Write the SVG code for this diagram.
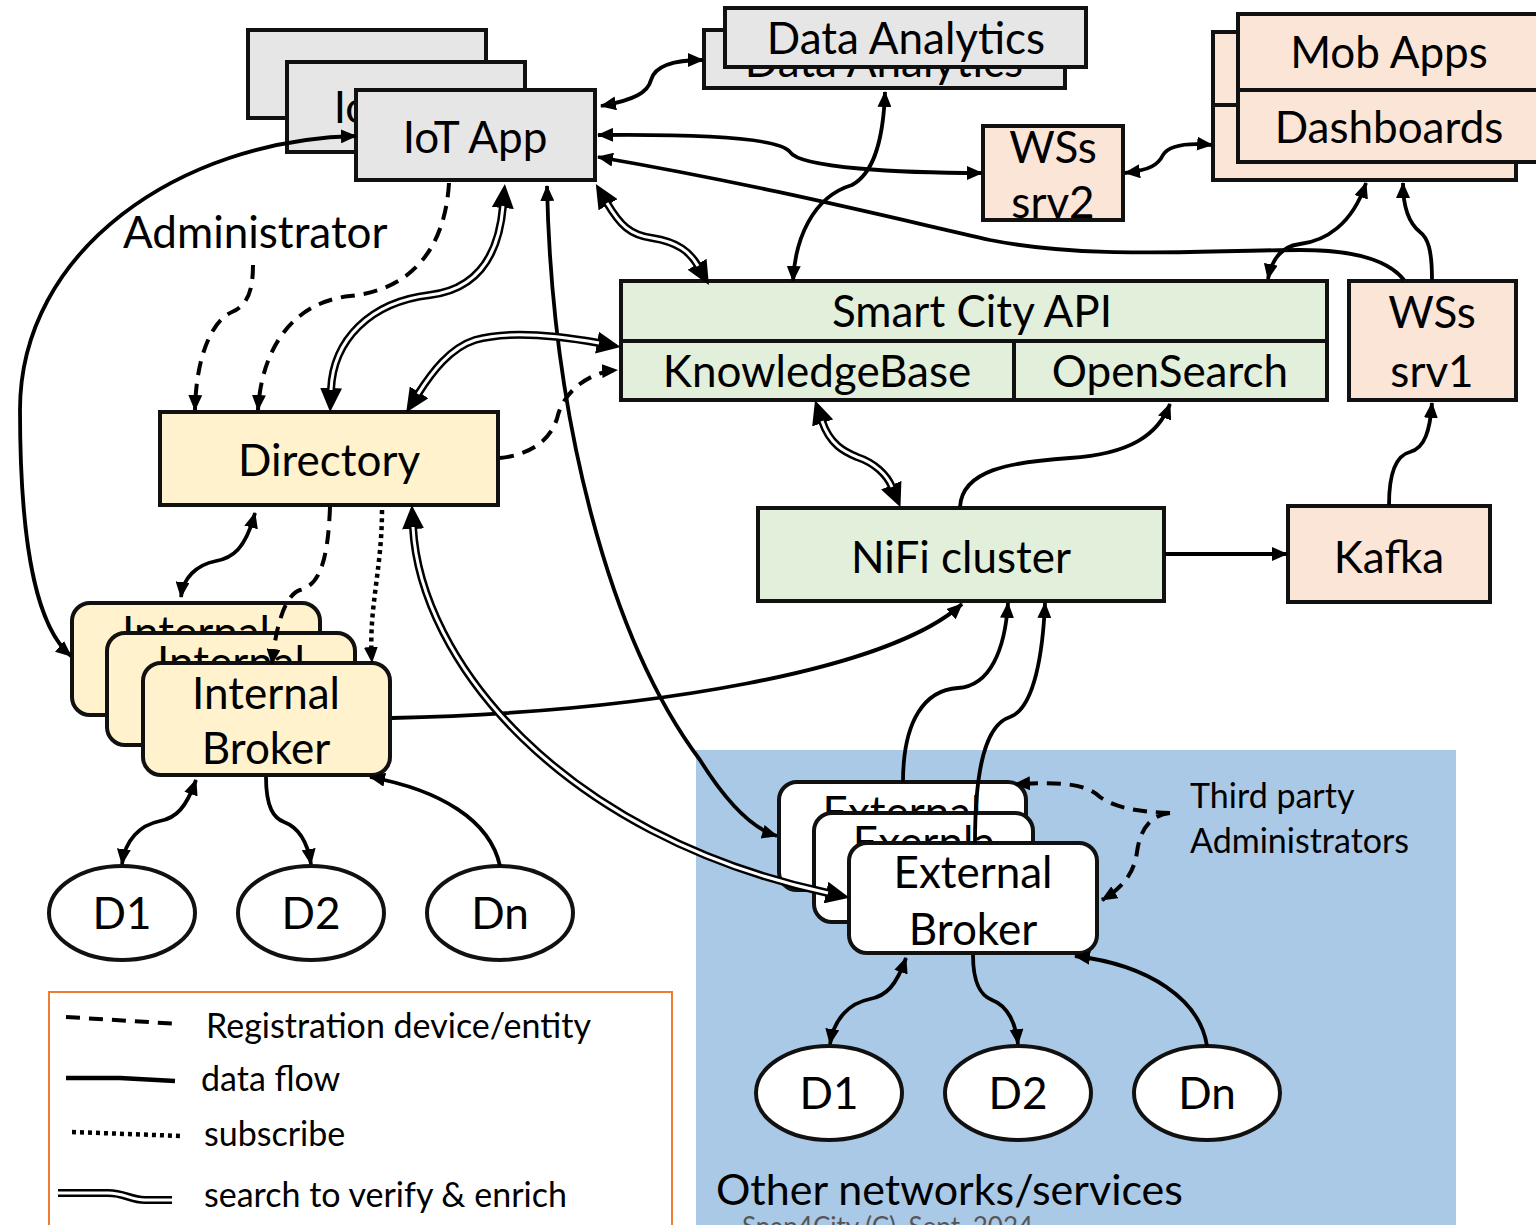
<svg xmlns="http://www.w3.org/2000/svg" width="1536" height="1225" viewBox="0 0 1536 1225">
<defs>
<style>
text{font-family:Lato,"Liberation Sans",sans-serif;fill:#000}
.lbl{font-size:44px;text-anchor:middle}
.sm{font-size:34px}
.box{stroke:#111;stroke-width:4}
.grey{fill:#e7e6e6}
.peach{fill:#fbe5d6}
.green{fill:#e2efda}
.yel{fill:#fff2cc}
.wh{fill:#fff}
.c{fill:none;stroke:#000;stroke-width:3.8}
.d{fill:none;stroke:#000;stroke-width:4;stroke-dasharray:14 9}
.o{fill:none;stroke:#000;stroke-width:4.5;stroke-dasharray:4 4}
.dbo{fill:none;stroke:#000;stroke-width:8}
.dbi{fill:none;stroke:#fff;stroke-width:3}
</style>
<marker id="a" markerUnits="userSpaceOnUse" markerWidth="16" markerHeight="14" refX="15" refY="7" orient="auto-start-reverse">
<path d="M0,0 L16,7 L0,14 z" fill="#000"/>
</marker>
<marker id="ad" markerUnits="userSpaceOnUse" markerWidth="24" markerHeight="22" refX="2" refY="11" orient="auto-start-reverse">
<path d="M0,0 L24,11 L0,22 z" fill="#000"/>
</marker>
</defs>
<rect width="1536" height="1225" fill="#fff"/>
<rect id="other-networks" x="696" y="750" width="760" height="475" fill="#aac9e7"/>

<g id="iot-app">
<rect class="box grey" x="248" y="30" width="238" height="88"/>
<rect class="box grey" x="287" y="62" width="238" height="90"/>
<text class="lbl" x="406" y="123">IoT App</text>
<rect class="box grey" x="356" y="90" width="239" height="90"/>
<text class="lbl" x="475" y="153">IoT App</text>
</g>
<g id="data-analytics">
<rect class="box grey" x="704" y="30" width="361" height="58"/>
<text class="lbl" x="884" y="77">Data Analytics</text>
<rect class="box grey" x="725" y="8" width="361" height="59"/>
<text class="lbl" x="906" y="54">Data Analytics</text>
</g>
<g id="mob-apps-dashboards">
<rect class="box peach" x="1213" y="32" width="303" height="73"/>
<rect class="box peach" x="1213" y="105" width="303" height="75"/>
<rect class="box peach" x="1238" y="14" width="310" height="76"/>
<text class="lbl" x="1389" y="68">Mob Apps</text>
<rect class="box peach" x="1238" y="90" width="310" height="72"/>
<text class="lbl" x="1389" y="143">Dashboards</text>
</g>
<g id="wss-srv2">
<rect class="peach" x="983" y="126" width="140" height="94"/>
<text class="lbl" x="1053" y="163">WSs</text>
<text class="lbl" x="1053" y="218">srv2</text>
<rect class="box" fill="none" x="983" y="126" width="140" height="94"/>
</g>
<g id="smart-city-api">
<rect class="box green" x="621" y="281" width="706" height="60"/>
<text class="lbl" x="972" y="327">Smart City API</text>
<rect class="box green" x="621" y="341" width="393" height="59"/>
<text class="lbl" x="817" y="387">KnowledgeBase</text>
<rect class="box green" x="1014" y="341" width="313" height="59"/>
<text class="lbl" x="1170" y="387">OpenSearch</text>
</g>
<g id="wss-srv1">
<rect class="box peach" x="1349" y="281" width="167" height="119"/>
<text class="lbl" x="1432" y="328">WSs</text>
<text class="lbl" x="1432" y="387">srv1</text>
</g>
<g id="directory">
<rect class="box yel" x="160" y="412" width="338" height="93"/>
<text class="lbl" x="329" y="476">Directory</text>
</g>
<g id="nifi">
<rect class="box green" x="758" y="508" width="406" height="93"/>
<text class="lbl" x="961" y="573">NiFi cluster</text>
</g>
<g id="kafka">
<rect class="box peach" x="1288" y="506" width="202" height="96"/>
<text class="lbl" x="1389" y="573">Kafka</text>
</g>
<g id="internal-broker">
<rect class="box yel" x="72" y="603" width="248" height="112" rx="18"/>
<text class="lbl" x="196" y="648">Internal</text>
<rect class="box yel" x="107" y="633" width="248" height="112" rx="18"/>
<text class="lbl" x="231" y="678">Internal</text>
<rect class="box yel" x="143" y="663" width="247" height="112" rx="18"/>
<text class="lbl" x="266" y="709">Internal</text>
<text class="lbl" x="266" y="764">Broker</text>
</g>
<g id="internal-devices">
<ellipse class="box wh" cx="122" cy="913" rx="73" ry="47"/>
<text class="lbl" x="122" y="929">D1</text>
<ellipse class="box wh" cx="311" cy="913" rx="73" ry="47"/>
<text class="lbl" x="311" y="929">D2</text>
<ellipse class="box wh" cx="500" cy="913" rx="73" ry="47"/>
<text class="lbl" x="500" y="929">Dn</text>
</g>
<g id="external-broker">
<rect class="box wh" x="779" y="782" width="247" height="108" rx="18"/>
<text class="lbl" x="902" y="828">External</text>
<rect class="box wh" x="814" y="813" width="219" height="109" rx="18"/>
<text class="lbl" x="924" y="858">Exernla</text>
<rect class="box wh" x="849" y="843" width="248" height="110" rx="18"/>
<text class="lbl" x="973" y="888">External</text>
<text class="lbl" x="973" y="945">Broker</text>
</g>
<g id="external-devices">
<ellipse class="box wh" cx="829" cy="1093" rx="73" ry="47"/>
<text class="lbl" x="829" y="1109">D1</text>
<ellipse class="box wh" cx="1018" cy="1093" rx="73" ry="47"/>
<text class="lbl" x="1018" y="1109">D2</text>
<ellipse class="box wh" cx="1207" cy="1093" rx="73" ry="47"/>
<text class="lbl" x="1207" y="1109">Dn</text>
</g>
<g id="labels">
<text x="123" y="248" style="font-size:44px">Administrator</text>
<text class="sm" x="1190" y="808">Third party</text>
<text class="sm" x="1190" y="853">Administrators</text>
<text x="716" y="1205" style="font-size:43px">Other networks/services</text>
<text x="742" y="1236" style="font-size:26px;fill:#555">Snap4City (C), Sept. 2024</text>
</g>

<g id="connectors">
<!-- solid data flows -->
<path class="c" marker-start="url(#a)" marker-end="url(#a)" d="M356,136 C180,140 20,250 20,410 C20,560 40,630 71,656"/>
<path class="c" marker-start="url(#a)" marker-end="url(#a)" d="M547,186 C552,420 610,640 700,760 C725,800 750,828 777,836"/>
<path class="c" marker-end="url(#a)" d="M392,718 C650,712 890,670 962,604"/>
<path class="c" marker-end="url(#a)" d="M903,782 C903,720 925,690 958,688 C990,686 1005,650 1008,603"/>
<path class="c" marker-end="url(#a)" d="M975,843 C975,770 985,725 1010,717 C1035,708 1043,650 1045,603"/>
<path class="c" marker-end="url(#a)" d="M960,507 C962,470 1010,462 1070,458 C1130,454 1158,435 1170,404"/>
<path class="c" marker-end="url(#a)" d="M1389,505 C1389,470 1398,455 1410,452 C1425,448 1430,430 1432,403"/>
<path class="c" marker-end="url(#a)" d="M1165,554 L1287,554"/>
<path class="c" marker-end="url(#a)" d="M1432,280 C1432,250 1428,238 1420,232 C1410,224 1403,208 1403,183"/>
<path class="c" marker-start="url(#a)" marker-end="url(#a)" d="M1268,279 C1272,258 1283,246 1300,244 C1325,241 1352,225 1366,183"/>
<path class="c" marker-start="url(#a)" marker-end="url(#a)" d="M1125,173 C1150,170 1158,165 1163,155 C1170,144 1190,143 1212,145"/>
<path class="c" marker-start="url(#a)" marker-end="url(#a)" d="M885,92 C883,150 870,175 852,185 C812,197 795,240 793,281"/>
<path class="c" marker-start="url(#a)" d="M598,157 C760,185 880,215 990,240 C1090,260 1200,250 1300,250 C1360,250 1390,262 1404,280"/>
<path class="c" marker-start="url(#a)" marker-end="url(#a)" d="M598,135 C700,134 780,138 790,152 C800,168 900,173 982,173"/>
<path class="c" marker-start="url(#a)" marker-end="url(#a)" d="M601,106 C635,100 648,92 651,80 C655,64 680,60 703,60"/>
<path class="c" marker-start="url(#a)" marker-end="url(#a)" d="M255,513 C245,550 232,558 216,561 C196,565 183,578 181,597"/>
<path class="c" marker-start="url(#a)" marker-end="url(#a)" d="M196,780 C186,808 176,818 160,821 C140,825 125,840 122,864"/>
<path class="c" marker-end="url(#a)" d="M266,777 C266,808 274,818 284,822 C300,828 308,845 311,864"/>
<path class="c" marker-end="url(#a)" d="M500,866 C490,820 440,790 370,777"/>
<path class="c" marker-start="url(#a)" marker-end="url(#a)" d="M906,958 C896,986 886,996 870,999 C850,1003 834,1018 830,1044"/>
<path class="c" marker-end="url(#a)" d="M973,955 C973,986 982,996 992,1000 C1008,1006 1016,1024 1018,1044"/>
<path class="c" marker-end="url(#a)" d="M1207,1046 C1200,1000 1150,965 1075,956"/>
<!-- registration (dashed) -->
<path class="d" marker-end="url(#a)" d="M449,183 C445,250 410,290 350,296 C295,302 262,345 258,410"/>
<path class="d" marker-end="url(#a)" d="M253,265 C253,290 248,305 232,312 C210,322 196,360 195,410"/>
<path class="d" marker-end="url(#a)" d="M500,458 C530,455 552,440 558,415 C565,390 590,372 617,370"/>
<path class="d" marker-end="url(#a)" d="M330,507 C328,560 320,585 300,590 C285,595 276,625 272,664"/>
<path class="d" marker-end="url(#a)" d="M1170,813 C1140,812 1115,808 1100,797 C1085,783 1060,782 1015,784"/>
<path class="d" marker-end="url(#a)" d="M1170,813 C1150,815 1140,830 1137,852 C1134,874 1122,888 1102,900"/>
<!-- subscribe (dotted) -->
<path class="o" marker-end="url(#a)" d="M382,510 C382,570 368,610 372,662"/>
<!-- search (double) -->
<path class="dbo" marker-start="url(#ad)" marker-end="url(#ad)" d="M503,206 C498,265 470,290 430,295 C370,302 333,340 331,390"/>
<path class="dbi" d="M503,206 C498,265 470,290 430,295 C370,302 333,340 331,390"/>
<path class="dbo" marker-start="url(#ad)" marker-end="url(#ad)" d="M599,343 C560,336 510,330 475,340 C450,348 432,372 418,394"/>
<path class="dbi" d="M599,343 C560,336 510,330 475,340 C450,348 432,372 418,394"/>
<path class="dbo" marker-start="url(#ad)" marker-end="url(#ad)" d="M413,527 C420,660 560,835 828,893"/>
<path class="dbi" d="M413,527 C420,660 560,835 828,893"/>
<path class="dbo" marker-start="url(#ad)" marker-end="url(#ad)" d="M822,421 C830,445 845,452 857,457 C875,463 887,475 892,487"/>
<path class="dbi" d="M822,421 C830,445 845,452 857,457 C875,463 887,475 892,487"/>
<path class="dbo" marker-start="url(#ad)" marker-end="url(#ad)" d="M607,203 C620,225 630,235 652,238 C678,242 690,252 698,266"/>
<path class="dbi" d="M607,203 C620,225 630,235 652,238 C678,242 690,252 698,266"/>
</g>

<g id="legend">
<rect x="49" y="992" width="623" height="240" fill="none" stroke="#ed7d31" stroke-width="2"/>
<path class="d" d="M66,1017 L180,1024"/>
<text class="sm" x="206" y="1038">Registration device/entity</text>
<path class="c" style="stroke-width:4.5" d="M66,1078 L120,1078 L175,1081"/>
<text class="sm" x="201" y="1091">data flow</text>
<path class="o" d="M72,1132 L182,1136"/>
<text class="sm" x="204" y="1146">subscribe</text>
<path class="dbo" d="M58,1193 L108,1193 C125,1193 130,1200 145,1200 L172,1200"/>
<path class="dbi" d="M58,1193 L108,1193 C125,1193 130,1200 145,1200 L172,1200"/>
<text class="sm" x="204" y="1207">search to verify &amp; enrich</text>
</g>
</svg>
